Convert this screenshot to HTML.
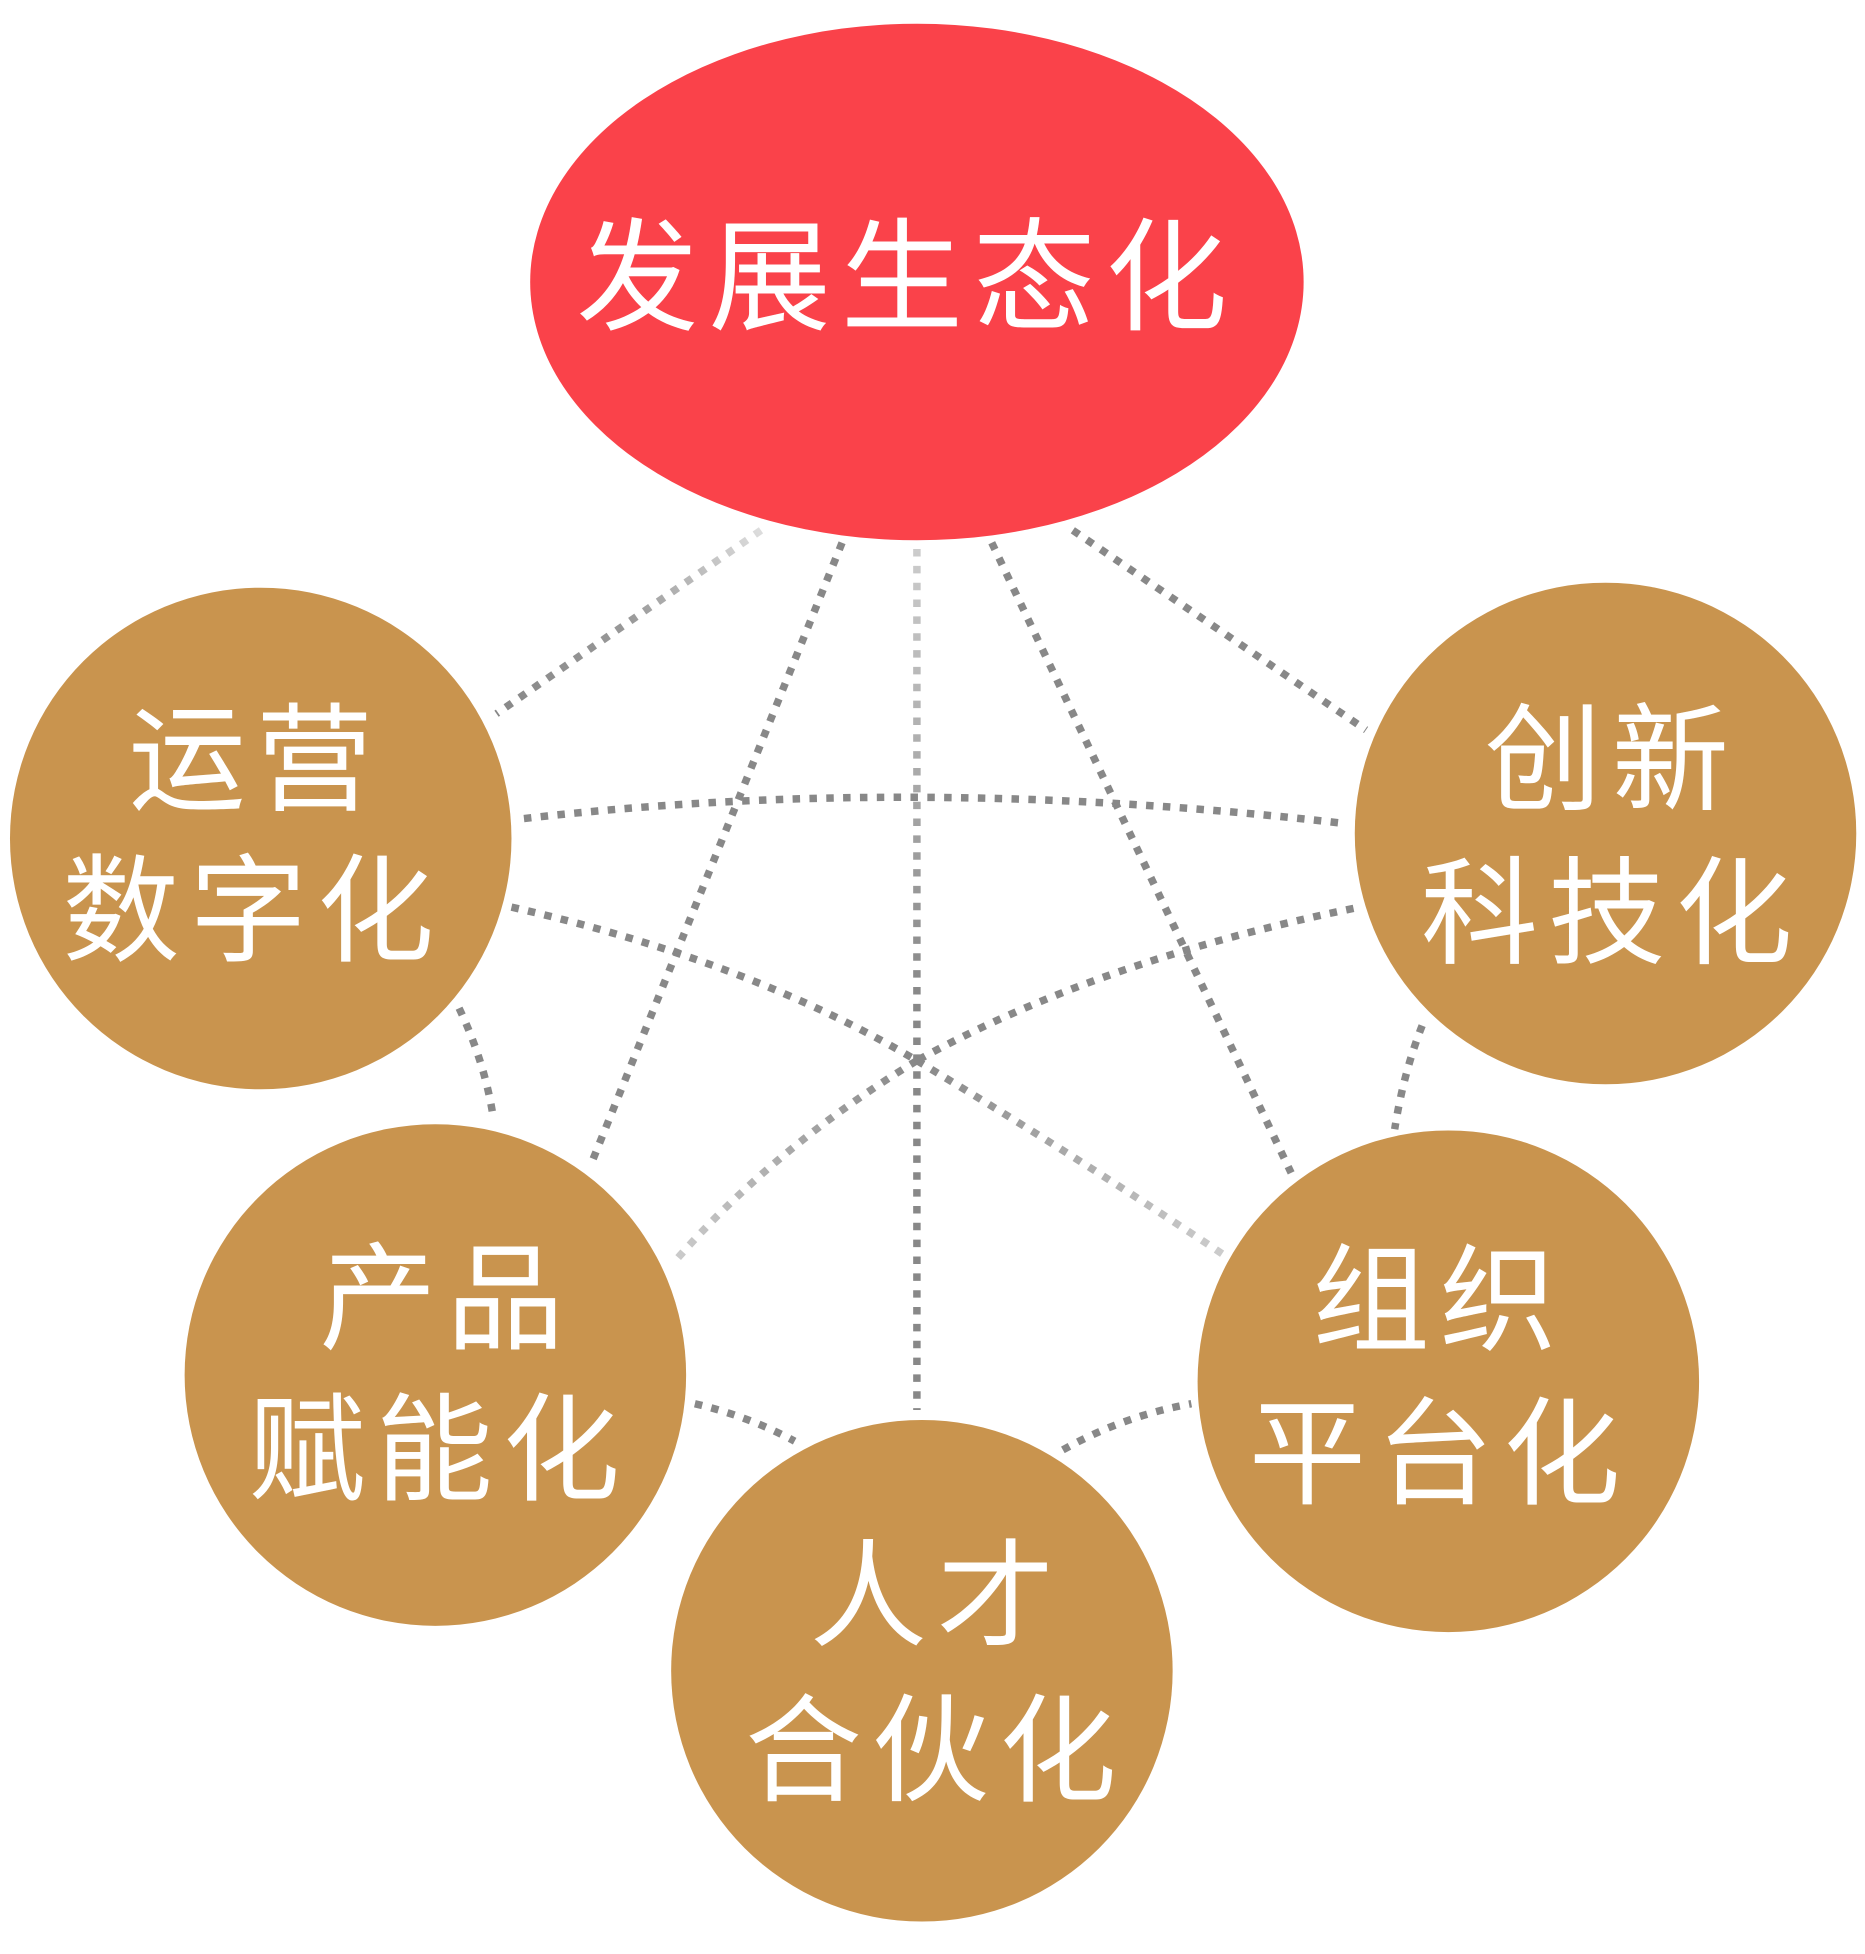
<!DOCTYPE html>
<html><head><meta charset="utf-8"><style>
html,body{margin:0;padding:0;background:#fff;}
svg{display:block;}
text{font-family:"Liberation Sans","Noto Sans CJK SC",sans-serif;fill:#fff;font-weight:normal;text-anchor:middle;}
</style></head><body>
<svg width="1865" height="1954" viewBox="0 0 1495 1566" preserveAspectRatio="none" xmlns="http://www.w3.org/2000/svg">
<defs>
<linearGradient id="g1" x1="610" y1="425" x2="398" y2="572" gradientUnits="userSpaceOnUse"><stop offset="0" stop-color="#ddd"/><stop offset="0.5" stop-color="#999"/><stop offset="1" stop-color="#888"/></linearGradient>
<linearGradient id="g2" x1="735" y1="440" x2="735" y2="800" gradientUnits="userSpaceOnUse"><stop offset="0" stop-color="#ccc"/><stop offset="1" stop-color="#888"/></linearGradient>
<linearGradient id="g3" x1="735" y1="850" x2="540" y2="1012" gradientUnits="userSpaceOnUse"><stop offset="0" stop-color="#888"/><stop offset="1" stop-color="#ccc"/></linearGradient>
<linearGradient id="g4" x1="735" y1="850" x2="980" y2="1005" gradientUnits="userSpaceOnUse"><stop offset="0" stop-color="#888"/><stop offset="1" stop-color="#ccc"/></linearGradient>
</defs>
<g fill="none" stroke="#888" stroke-width="6" stroke-dasharray="6 7.5">
<line x1="610" y1="425" x2="398" y2="572" stroke="url(#g1)"/>
<line x1="675" y1="435" x2="475" y2="930"/>
<line x1="735" y1="440" x2="735" y2="1130" stroke="url(#g2)"/>
<line x1="795" y1="435" x2="1035" y2="940"/>
<line x1="860" y1="425" x2="1095" y2="585"/>
<path d="M420,656 Q735,620 1078,660"/>
<path d="M410,727 Q600,770 735,850"/>
<path d="M735,850 Q860,925 980,1005" stroke="url(#g4)"/>
<path d="M1085,728 Q880,770 735,850"/>
<path d="M735,850 Q620,920 540,1012" stroke="url(#g3)"/>
<path d="M368,808 Q388,850 395,893"/>
<path d="M1140,822 Q1125,860 1118,905"/>
<path d="M557,1125 Q600,1135 637,1155"/>
<path d="M852,1162 Q900,1135 955,1125"/>
</g>
<ellipse cx="735" cy="226" rx="310" ry="207" fill="#fa424a"/>
<g fill="#c9944e">
<circle cx="209" cy="672" r="201"/>
<circle cx="1287" cy="668" r="201"/>
<circle cx="349" cy="1102" r="201"/>
<circle cx="1161" cy="1107" r="201"/>
<circle cx="739" cy="1339" r="201"/>
</g>
<text x="727" y="257" font-size="98" letter-spacing="8">发展生态化</text>
<text x="205" y="642" font-size="94" letter-spacing="8">运营</text>
<text x="203" y="763" font-size="94" letter-spacing="8">数字化</text>
<text x="1292" y="642" font-size="94" letter-spacing="8">创新</text>
<text x="1292" y="765" font-size="94" letter-spacing="8">科技化</text>
<text x="358" y="1074" font-size="94" letter-spacing="8">产品</text>
<text x="352" y="1195" font-size="94" letter-spacing="8">赋能化</text>
<text x="1154" y="1075" font-size="94" letter-spacing="8">组织</text>
<text x="1154" y="1198" font-size="94" letter-spacing="8">平台化</text>
<text x="751" y="1312" font-size="94" letter-spacing="8">人才</text>
<text x="750" y="1436" font-size="94" letter-spacing="8">合伙化</text>
</svg>
</body></html>
